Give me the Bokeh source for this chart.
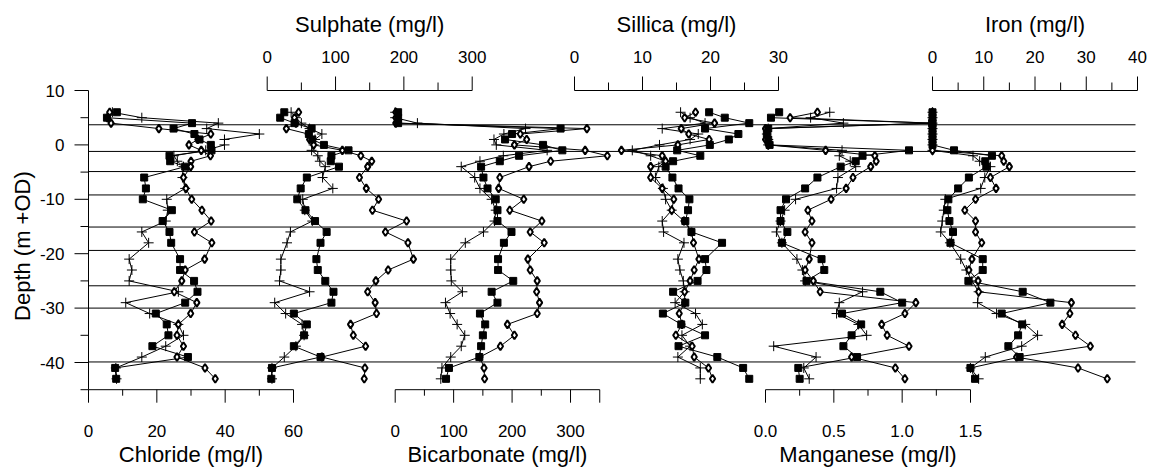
import math
from bokeh.plotting import figure
from bokeh.models import Range1d, Label
from bokeh.embed import file_html
from bokeh.resources import INLINE

# ---------------- data ----------------
DEPTH = [6, 5, 4, 3, 2, 1, 0, -1, -2, -3, -4, -6, -8, -10, -12, -14, -16, -18,
         -21, -23, -25, -27, -29, -31, -33, -35, -37, -39, -41, -43]

BOUNDARIES = [3.7, -1.2, -4.9, -9.2, -15.1, -19.4, -25.9, -30.0, -39.9]

CHLORIDE_SQ = [8.3, 5.4, 30.3, 24.9, 31.0, 32.5, 35.8, 36.0, 23.7, 23.9, 28.3, 16.3, 16.8, 15.9, 24.4,
               21.7, 23.7, 24.2, 26.8, 26.8, 30.9, 31.9, 28.3, 19.7, 22.9, 23.4, 18.7, 29.1, 7.8, 8.1]
CHLORIDE_DI = [6.2, 5.5, 6.6, 20.6, 35.8, 32.0, 29.4, 33.0, 35.7, 30.0, 29.9, 27.8, 28.5, 30.2, 33.2,
               35.9, 31.0, 36.1, 34.0, 28.3, 27.3, 25.1, 31.7, 29.9, 26.3, 25.9, 27.8, 25.9, 34.1, 37.1]
CHLORIDE_PL = [7.0, 15.6, 38.0, 34.6, 50.0, 39.8, 39.8, 34.3, 25.0, 26.0, 27.8, 27.5, 28.3, 22.9, 23.2,
               22.6, 15.6, 17.6, 11.9, 12.7, 11.9, 26.3, 10.9, 17.9, 26.3, 27.8, 22.6, 15.6, 8.0, 8.2]

SULPHATE_SQ = [25, 19, 40, 65, 61, 66, 83, 119, 94, 93, 105, 58, 49, 44, 56,
               70, 87, 78, 72, 74, 85, 97, 94, 39, 58, 54, 39, 78, 7, 6]
SULPHATE_DI = [46, 40, 42, 28, 60, 62, 68, 110, 137, 153, 147, 135, 145, 163, 154,
               204, 173, 206, 214, 177, 159, 147, 158, 160, 122, 126, 144, 80, 143, 142]
SULPHATE_PL = [35, 42, 50, 62, 80, 70, 68, 65, 74, 77, 85, 81, 96, 52, 55,
               66, 34, 29, 20, 20, 18, 62, 11, 27, 51, 54, 42, 25, 7, 7]

BICARB_SQ = [5, 5, 5, 283, 200, 188, 253, 286, 212, 179, 147, 151, 158, 172, 175,
             175, 199, 186, 176, 176, 202, 165, 175, 145, 154, 150, 147, 144, 92, 87]
BICARB_DI = [1, 1, 1, 328, 214, 225, 204, 325, 363, 266, 229, 179, 177, 220, 196,
             251, 231, 255, 227, 231, 243, 242, 247, 243, 192, 204, 180, 145, 152, 153]
BICARB_PL = [0, 0, 38, 223, 186, 169, 173, 260, 185, 145, 113, 136, 145, 165, 172,
             170, 151, 120, 95, 95, 96, 115, 86, 94, 106, 119, 113, 95, 80, 78]

SILICA_SQ = [19.8, 22.1, 25.7, 19.2, 24.1, 22.7, 19.9, 15.1, 18.5, 14.5, 13.4, 14.4, 15.3, 16.9, 16.7,
             16.3, 17.2, 21.7, 19.2, 19.4, 18.1, 14.5, 16.3, 13.0, 15.7, 19.2, 15.3, 21.0, 24.8, 25.7]
SILICA_DI = [17.8, 16.2, 20.6, 15.7, 16.8, 19.8, 15.2, 6.9, 12.9, 13.4, 11.2, 11.2, 12.9, 14.6, 14.3,
             16.1, 17.2, 17.5, 18.3, 17.6, 17.0, 16.2, 16.2, 15.4, 15.8, 14.9, 17.3, 17.6, 19.7, 20.3]
SILICA_PL = [15.6, 17.0, 19.2, 12.9, 18.2, 17.0, 12.5, 8.5, 11.2, 13.4, 12.4, 11.9, 13.0, 13.4, 14.3,
             12.9, 13.1, 16.1, 15.2, 15.5, 16.0, 16.2, 14.8, 17.8, 18.8, 15.8, 17.0, 15.2, 18.5, 18.5]

MANGANESE_SQ = [0.10, 0.04, 1.22, 0.02, 0.01, 0.02, 0.03, 1.05, 0.71, 0.66, 0.55, 0.38, 0.29, 0.15, 0.11,
                0.11, 0.16, 0.12, 0.41, 0.43, 0.30, 0.84, 1.00, 0.56, 0.70, 0.63, 0.57, 0.67, 0.24, 0.25]
MANGANESE_DI = [0.38, 0.18, 1.22, 0.00, 0.01, 0.00, 0.02, 0.44, 0.80, 0.81, 0.77, 0.64, 0.59, 0.48, 0.31,
                0.34, 0.29, 0.34, 0.32, 0.29, 0.35, 0.40, 1.10, 1.02, 0.85, 0.89, 1.05, 0.63, 0.95, 1.02]
MANGANESE_PL = [0.47, 0.33, 0.57, 0.02, 0.01, 0.02, 0.02, 0.56, 0.54, 0.62, 0.66, 0.53, 0.52, 0.22, 0.14,
                0.11, 0.08, 0.12, 0.23, 0.27, 0.29, 0.71, 0.54, 0.52, 0.68, 0.74, 0.06, 0.37, 0.28, 0.32]

IRON_SQ = [0, 0, 0, 0, 0, 0, 0, 4.2, 11.6, 10.3, 10.5, 7.1, 5.0, 3.1, 2.9,
           3.3, 4.0, 3.5, 9.8, 9.8, 7.0, 17.6, 23.0, 13.5, 17.5, 16.7, 14.8, 17.0, 7.4, 8.3]
IRON_DI = [0, 0, 0, 0, 0, 0, 0, 0, 13.5, 13.9, 15.0, 11.3, 12.4, 8.4, 6.3,
           8.4, 8.4, 9.6, 7.7, 7.1, 8.9, 9.0, 27.1, 26.8, 25.3, 27.9, 30.8, 16.4, 28.4, 34.1]
IRON_PL = [0, 0, 0, 0, 0, 0, 0, 0, 7.9, 9.2, 11.3, 10.2, 9.4, 2.5, 2.2,
           1.9, 1.6, 3.4, 5.5, 6.6, 7.7, 9.0, 8.8, 12.5, 18.1, 20.5, 17.4, 10.3, 7.4, 9.0]

Y_TICKS = [-40, -30, -20, -10, 0, 10]
Y_MINOR = [-45, -35, -25, -15, -5, 5]
Y_TITLE = "Depth (m +OD)"

# ---------------- layout ----------------
FONT = "Liberation Sans"
W, H = 1152, 473
AXIS_X = 88          # page x of the depth axis line
PX_PER_M = 5.44
Y_ZERO_PX = 144.4
HLINE_END = 1135
Y_BOTTOM, Y_TOP = -45, 10

PANELS = [
    dict(name="chl", title="Chloride (mg/l)", zero=88.0, ppu=205 / 60, hi=60,
         majors=[0, 20, 40, 60], labels=["0", "20", "40", "60"], minors=[10, 30, 50],
         side="below", data=(CHLORIDE_SQ, CHLORIDE_DI, CHLORIDE_PL)),
    dict(name="so4", title="Sulphate (mg/l)", zero=266.7, ppu=205 / 300, hi=300,
         majors=[0, 100, 200, 300], labels=["0", "100", "200", "300"], minors=[50, 150, 250],
         side="above", data=(SULPHATE_SQ, SULPHATE_DI, SULPHATE_PL)),
    dict(name="hco3", title="Bicarbonate (mg/l)", zero=394.7, ppu=0.5844, hi=350,
         majors=[0, 100, 200, 300, 350], labels=["0", "100", "200", "300", ""], minors=[50, 150, 250],
         side="below", data=(BICARB_SQ, BICARB_DI, BICARB_PL)),
    dict(name="si", title="Sillica (mg/l)", zero=574.0, ppu=6.8, hi=30,
         majors=[0, 10, 20, 30], labels=["0", "10", "20", "30"], minors=[5, 15, 25],
         side="above", data=(SILICA_SQ, SILICA_DI, SILICA_PL)),
    dict(name="mn", title="Manganese (mg/l)", zero=765.0, ppu=205 / 1.5, hi=1.5,
         majors=[0, 0.5, 1.0, 1.5], labels=["0.0", "0.5", "1.0", "1.5"], minors=[0.25, 0.75, 1.25],
         side="below", data=(MANGANESE_SQ, MANGANESE_DI, MANGANESE_PL)),
    dict(name="fe", title="Iron (mg/l)", zero=932.0, ppu=5.125, hi=40,
         majors=[0, 10, 20, 30, 40], labels=["0", "10", "20", "30", "40"], minors=[5, 15, 25, 35],
         side="above", data=(IRON_SQ, IRON_DI, IRON_PL)),
]

p = figure(width=W, height=H, output_backend="svg", toolbar_location=None, title=None,
           x_range=Range1d(0, W),
           y_range=Range1d(-(H - Y_ZERO_PX) / PX_PER_M, Y_ZERO_PX / PX_PER_M),
           x_axis_location=None, y_axis_location=None,
           min_border_left=0, min_border_right=0, min_border_top=0, min_border_bottom=0)
p.outline_line_color = None
p.grid.visible = False
p.background_fill_color = "white"

extra = {}
for pn in PANELS:
    extra[pn["name"]] = Range1d((0 - pn["zero"]) / pn["ppu"], (W - pn["zero"]) / pn["ppu"])
p.extra_x_ranges = extra

# ---- depth axis (drawn at chloride = 0) ----
p.segment(x0=[0], x1=[0], y0=[Y_BOTTOM], y1=[Y_TOP], x_range_name="chl",
          line_color="black", line_width=1)
p.ray(x=[0] * len(Y_TICKS), y=Y_TICKS, length=14, length_units="screen", angle=math.pi,
      x_range_name="chl", line_color="black", line_width=1)
p.ray(x=[0] * len(Y_MINOR), y=Y_MINOR, length=8, length_units="screen", angle=math.pi,
      x_range_name="chl", line_color="black", line_width=1)
for t in Y_TICKS:
    p.add_layout(Label(x=0, y=t, text=str(t), x_range_name="chl", x_offset=-24,
                       text_align="right", text_baseline="middle", text_font=FONT,
                       text_font_size="17px", text_color="black"))
p.add_layout(Label(x=0, y=(Y_BOTTOM + Y_TOP) / 2, text=Y_TITLE, x_range_name="chl",
                   x_offset=-66, y_offset=-6, angle=math.pi / 2, text_align="center",
                   text_baseline="middle", text_font=FONT, text_font_size="22px",
                   text_color="black"))

# horizontal boundary lines
p.segment(x0=[AXIS_X] * len(BOUNDARIES), x1=[HLINE_END] * len(BOUNDARIES),
          y0=BOUNDARIES, y1=BOUNDARIES, line_color="black", line_width=1)

# panel axes drawn from each panel's own range
for pn in PANELS:
    rn = pn["name"]
    bottom = pn["side"] == "below"
    yl = Y_BOTTOM if bottom else Y_TOP
    ang = -math.pi / 2 if bottom else math.pi / 2
    p.segment(x0=[0], x1=[pn["hi"]], y0=[yl], y1=[yl], x_range_name=rn,
              line_color="black", line_width=1)
    p.ray(x=pn["majors"], y=[yl] * len(pn["majors"]), length=13 if bottom else 14,
          length_units="screen", angle=ang, x_range_name=rn, line_color="black", line_width=1)
    p.ray(x=pn["minors"], y=[yl] * len(pn["minors"]), length=6 if bottom else 8,
          length_units="screen", angle=ang, x_range_name=rn, line_color="black", line_width=1)
    for xv, lab in zip(pn["majors"], pn["labels"]):
        if not lab:
            continue
        p.add_layout(Label(x=xv, y=yl, text=lab, x_range_name=rn,
                           y_offset=-41 if bottom else 34, text_align="center",
                           text_baseline="middle", text_font=FONT, text_font_size="17px",
                           text_color="black"))
    p.add_layout(Label(x=pn["hi"] / 2, y=yl, text=pn["title"], x_range_name=rn,
                       y_offset=-65 if bottom else 66, text_align="center",
                       text_baseline="middle", text_font=FONT, text_font_size="22px",
                       text_color="black"))

# data series
for pn in PANELS:
    rn = pn["name"]
    sq, di, pl = pn["data"]
    for vals in (sq, di, pl):
        p.line(vals, DEPTH, x_range_name=rn, line_color="black", line_width=1)
    p.scatter(pl, DEPTH, x_range_name=rn, marker="cross", size=10,
              line_color="black", line_width=1)
    p.scatter(di, DEPTH, x_range_name=rn, marker="diamond", size=8,
              fill_color="white", line_color="black", line_width=2)
    p.scatter(sq, DEPTH, x_range_name=rn, marker="square", size=7,
              fill_color="black", line_color="black")

open("out.html", "w").write(file_html(p, INLINE))
